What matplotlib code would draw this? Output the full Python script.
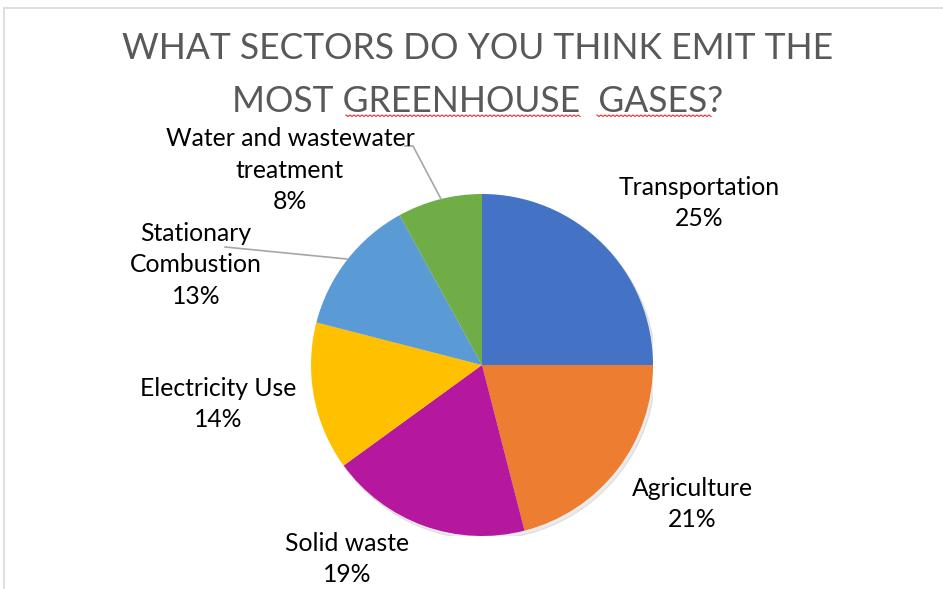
import numpy as np
import matplotlib
matplotlib.use("Agg")
import matplotlib.pyplot as plt
from matplotlib.lines import Line2D

categories = ["Transportation", "Agriculture", "Solid waste", "Electricity Use",
              "Stationary\nCombustion", "Water and wastewater\ntreatment"]
values = [25, 21, 19, 14, 13, 8]
colors = ["#4472C4", "#ED7D31", "#B5179E", "#FFC000", "#5B9BD5", "#70AD47"]
title = "WHAT SECTORS DO YOU THINK EMIT THE\nMOST GREENHOUSE  GASES?"

W, H = 943, 589
fig = plt.figure(figsize=(W / 100, H / 100), dpi=100)
fig.patch.set_facecolor("white")

cx, cy, r = 482, 365, 171
ax = fig.add_axes([(cx - r) / W, (H - cy - r) / H, 2 * r / W, 2 * r / H])

wedges, _ = ax.pie(values, colors=colors, startangle=90, counterclock=False,
                   radius=1.0, wedgeprops=dict(linewidth=0))
for w in wedges:
    w.set_zorder(1)
shadow = plt.Circle((0.015, -0.02), 1.0, color="#000000", alpha=0.08, zorder=0)
ax.add_patch(shadow)
ax.set_xlim(-1, 1)
ax.set_ylim(-1, 1)
ax.set_aspect("equal")
ax.axis("off")

FONT = ["Lato", "DejaVu Sans"]

def px2d(px, py):
    return (px - cx) / r, (cy - py) / r

label_px = [(699, 203), (692, 504), (347, 559), (218, 404), (196, 265), (290, 170)]
for cat, v, (px, py) in zip(categories, values, label_px):
    x, y = px2d(px, py)
    ax.text(x, y, f"{cat}\n{v}%", ha="center", va="center", fontsize=17.8,
            family=FONT, color="#000000", linespacing=1.45, clip_on=False)

# leader lines
lc = "#A6A6A6"
x0, y0 = px2d(225, 247); x1, y1 = px2d(347, 259)
ax.add_line(Line2D([x0, x1], [y0, y1], color=lc, lw=1.2, clip_on=False))
xa, ya = px2d(405, 146); xb, yb = px2d(413, 146); xc, yc = px2d(441, 199)
ax.add_line(Line2D([xa, xb, xc], [ya, yb, yc], color=lc, lw=1.2, clip_on=False))

# title
fig.text(478 / W, 1 - 75 / H, title, ha="center", va="center", fontsize=25.6,
         family=FONT, color="#595959", linespacing=1.72)

# spell-check squiggles
for xs, xe in [(346, 580), (597, 712)]:
    xx = np.arange(xs, xe + 1, 2)
    yy = 115 + np.where(np.arange(len(xx)) % 2 == 0, 0, 1.5)
    fig.add_artist(Line2D(xx / W, 1 - yy / H, color="#E03030", lw=0.8))

# frame border
fig.add_artist(Line2D([4 / W, 1], [1 - 8 / H, 1 - 8 / H], color="#D9D9D9", lw=1.2))
fig.add_artist(Line2D([4 / W, 4 / W], [0, 1 - 8 / H], color="#D9D9D9", lw=1.2))

fig.savefig("out.png", dpi=100, facecolor="white")
